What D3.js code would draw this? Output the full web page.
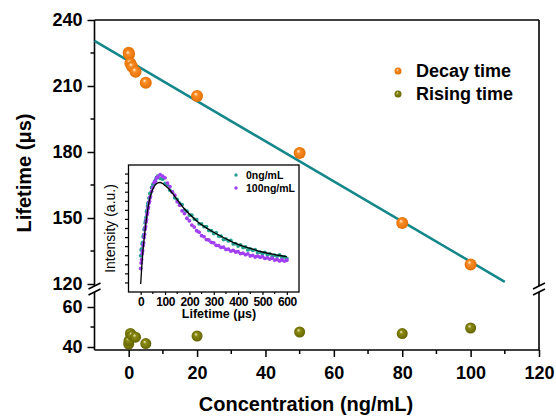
<!DOCTYPE html>
<html>
<head>
<meta charset="utf-8">
<script src="https://cdn.jsdelivr.net/npm/d3@7"></script>
<style>
  body { margin: 0; background: #fff; }
  text { font-family: "Liberation Sans", Arial, sans-serif; }
</style>
</head>
<body>
<div id="chart"></div>
<script>
// Main chart data
const concentration = [0, 0.1, 0.5, 1, 2, 5, 20, 50, 80, 100];
const decayTime = [225.1, 224.4, 220.3, 218.8, 216.5, 211.5, 205.5, 179.5, 147.7, 128.9];
const risingTime = [41.5, 43.2, 46.8, 45.8, 44.9, 41.7, 45.5, 47.5, 46.7, 49.5];
const fitX = [-10, 110];
const fitY = [230.5, 121];
const xTicks = [0, 20, 40, 60, 80, 100, 120];
const yTicksTop = [120, 150, 180, 210, 240];
const yTicksBottom = [40, 60];

// Inset data (decay curves)
const insetTime = [0, 2, 4, 6, 8, 10, 12, 14, 16, 18, 20, 22, 24, 26, 28, 30, 32, 34, 36, 38, 40,
  45, 50, 55, 60, 65, 70,
  80, 90, 100, 110, 120, 130, 140, 150, 160, 170, 180, 190, 200, 210, 220, 230, 240, 250, 260, 270,
  280, 290, 300, 310, 320, 330, 340, 350, 360, 370, 380, 390, 400, 410, 420, 430, 440, 450, 460, 470,
  480, 490, 500, 510, 520, 530, 540, 550, 560, 570, 580, 590, 600];
const intensity0 = [4.0, 4.63, 4.74, 5.29, 5.47, 6.09, 6.30, 6.87, 7.00, 7.62, 7.87, 8.22, 8.84, 8.99, 9.48, 9.79, 9.85, 10.35, 10.40, 10.87, 10.88,
  11.52, 11.85, 11.94, 12.33, 12.61, 12.78,
  12.52, 12.44, 11.96, 11.82, 11.23, 11.0, 10.39, 10.2, 9.79, 9.64, 9.05, 8.91, 8.49, 8.46, 8.04, 7.97, 7.52, 7.50, 7.20, 7.21,
  6.79, 6.76, 6.45, 6.53, 6.16, 6.15, 5.78, 5.84, 5.63, 5.69, 5.30, 5.33, 5.07, 5.20, 4.90, 4.96, 4.64, 4.75, 4.59, 4.67,
  4.34, 4.40, 4.19, 4.37, 4.10, 4.20, 3.91, 4.07, 3.95, 4.08, 3.78, 3.88, 3.70];
const intensity100 = [2.59, 3.21, 3.59, 4.22, 4.55, 5.10, 5.42, 6.01, 6.36, 6.91, 7.21, 7.71, 7.99, 8.52, 8.74, 9.18, 9.36, 9.80, 10.0, 10.39, 10.52,
  11.12, 11.52, 12.05, 12.22, 12.57, 12.65,
  12.95, 12.76, 12.59, 12.01, 11.62, 11.03, 10.67, 9.96, 9.57, 8.95, 8.65, 8.13, 7.85, 7.38, 7.16, 6.75, 6.59, 6.21, 6.10, 5.78,
  5.73, 5.48, 5.42, 5.14, 5.12, 4.91, 4.94, 4.69, 4.72, 4.51, 4.58, 4.41, 4.45, 4.24, 4.29, 4.12, 4.20, 3.98, 4.04, 3.86,
  3.96, 3.83, 3.89, 3.70, 3.77, 3.63, 3.73, 3.52, 3.58, 3.43, 3.53, 3.41, 3.50];
const fitTime = [0, 5, 10, 15, 20, 30, 40, 50, 60, 70, 80, 90, 100, 120, 140, 160, 180, 200, 240, 280, 320, 360, 400, 450, 500, 550, 600];
const fitIntensity = [0.88, 2.98, 4.74, 6.06, 7.28, 9.26, 10.58, 11.36, 11.80, 12.02, 12.07, 11.96, 11.74, 11.25, 10.53, 9.81, 9.15, 8.60,
  7.61, 6.89, 6.28, 5.73, 5.24, 4.80, 4.41, 4.13, 3.91];
const insetXTicks = [0, 100, 200, 300, 400, 500, 600];

const svgWidth = 556;
const svgHeight = 416;

// Plot frame
const plotL = 94.5, plotR = 539, plotT = 20, plotB = 350;
const breakTop = 286, breakBottom = 292;

const teal = "#14878a";

let svg = d3.select("#chart")
  .append("svg")
  .attr("width", svgWidth)
  .attr("height", svgHeight);

// Sphere-like gradients for markers
let defs = svg.append("defs");
function sphere(id, light, mid, dark) {
  let g = defs.append("radialGradient")
    .attr("id", id)
    .attr("cx", "50%").attr("cy", "50%").attr("r", "55%")
    .attr("fx", "38%").attr("fy", "32%");
  g.append("stop").attr("offset", "0%").attr("stop-color", light);
  g.append("stop").attr("offset", "30%").attr("stop-color", mid);
  g.append("stop").attr("offset", "100%").attr("stop-color", dark);
}
sphere("gOrange", "#fff3df", "#fb8c25", "#e06c00");
sphere("gOlive", "#eeeec0", "#8a8a12", "#606000");

// Step 1: scales
let xScale = d3.scaleLinear().domain([-10, 120]).range([plotL, plotR]);
let yTop = d3.scaleLinear().domain([119, 240]).range([286.2, plotT]);
let yBottom = d3.scaleLinear().domain([38.5, 66]).range([plotB, 295]);

// Step 2: axes
let bottomAxis = d3.axisBottom(xScale)
  .tickValues(xTicks).tickSize(7).tickSizeOuter(0).tickPadding(4);
let xg = svg.append("g")
  .attr("transform", `translate(0, ${plotB})`)
  .call(bottomAxis);

let leftTop = d3.axisLeft(yTop)
  .tickValues(yTicksTop).tickSize(7).tickSizeOuter(0).tickPadding(5);
let ytg = svg.append("g")
  .attr("transform", `translate(${plotL}, 0)`)
  .call(leftTop);

let leftBottom = d3.axisLeft(yBottom)
  .tickValues(yTicksBottom).tickSize(7).tickSizeOuter(0).tickPadding(5);
let ybg = svg.append("g")
  .attr("transform", `translate(${plotL}, 0)`)
  .call(leftBottom);

[xg, ytg, ybg].forEach(g => {
  g.select(".domain").remove();
  g.selectAll(".tick line").attr("stroke", "#000").attr("stroke-width", 1.5);
  g.selectAll(".tick text")
    .attr("fill", "#000")
    .style("font-size", "18px")
    .style("font-weight", "bold");
});
xg.selectAll(".tick text").attr("dy", "1em");

// minor ticks
let minorX = d3.range(10, 120, 20);
svg.append("g").selectAll("line")
  .data(minorX).enter().append("line")
  .attr("x1", d => xScale(d)).attr("x2", d => xScale(d))
  .attr("y1", plotB).attr("y2", plotB + 4)
  .attr("stroke", "#000").attr("stroke-width", 1.5);
svg.append("g").selectAll("line")
  .data([135, 165, 195, 225]).enter().append("line")
  .attr("x1", plotL - 4).attr("x2", plotL)
  .attr("y1", d => yTop(d)).attr("y2", d => yTop(d))
  .attr("stroke", "#000").attr("stroke-width", 1.5);
svg.append("line")
  .attr("x1", plotL - 4).attr("x2", plotL)
  .attr("y1", yBottom(50)).attr("y2", yBottom(50))
  .attr("stroke", "#000").attr("stroke-width", 1.5);

// Frame with broken vertical axes
let frame = svg.append("g").attr("stroke", "#000").attr("stroke-width", 1.6).attr("fill", "none");
frame.append("line").attr("x1", plotL).attr("x2", plotR).attr("y1", plotT).attr("y2", plotT);
frame.append("line").attr("x1", plotL).attr("x2", plotR).attr("y1", plotB).attr("y2", plotB);
[plotL, plotR].forEach(x => {
  frame.append("line").attr("x1", x).attr("x2", x).attr("y1", plotT).attr("y2", breakTop);
  frame.append("line").attr("x1", x).attr("x2", x).attr("y1", breakBottom).attr("y2", plotB);
  frame.append("line").attr("x1", x - 6).attr("x2", x + 6).attr("y1", breakTop + 3).attr("y2", breakTop - 3);
  frame.append("line").attr("x1", x - 6).attr("x2", x + 6).attr("y1", breakBottom + 3).attr("y2", breakBottom - 3);
});

// Step 3: linear fit line
svg.append("path")
  .datum(fitX.map((x, i) => [x, fitY[i]]))
  .attr("fill", "none")
  .attr("stroke", teal)
  .attr("stroke-width", 2.5)
  .attr("d", d3.line().x(d => xScale(d[0])).y(d => yTop(d[1])));

// Step 4: inset
const inL = 128.5, inR = 299, inT = 165, inB = 292;
let ix = d3.scaleLinear().domain([-50, 650]).range([inL, inR]);
let iy = d3.scaleLinear().domain([0, 14]).range([inB, inT]);

let inset = svg.append("g");
inset.append("rect")
  .attr("x", inL).attr("y", inT).attr("width", inR - inL).attr("height", inB - inT)
  .attr("fill", "#fff").attr("stroke", "#000").attr("stroke-width", 1.3);

let ixAxis = d3.axisBottom(ix).tickValues(insetXTicks).tickSize(3).tickSizeOuter(0).tickPadding(2);
let ixg = inset.append("g").attr("transform", `translate(0, ${inB})`).call(ixAxis);
ixg.select(".domain").remove();
ixg.selectAll(".tick line").attr("stroke", "#000").attr("stroke-width", 1.2);
ixg.selectAll(".tick text")
  .attr("fill", "#000")
  .style("font-size", "12px")
  .style("letter-spacing", "-0.4px")
  .style("font-weight", "bold");
inset.append("g").selectAll("line")
  .data([50, 150, 250, 350, 450, 550]).enter().append("line")
  .attr("x1", d => ix(d)).attr("x2", d => ix(d))
  .attr("y1", inB).attr("y2", inB + 2)
  .attr("stroke", "#000").attr("stroke-width", 1.2);
inset.append("g").selectAll("line")
  .data(d3.range(1, 14)).enter().append("line")
  .attr("x1", inL - 3.5).attr("x2", inL)
  .attr("y1", d => iy(d)).attr("y2", d => iy(d))
  .attr("stroke", "#000").attr("stroke-width", 1.2);

inset.append("g").selectAll("circle")
  .data(insetTime).enter().append("circle")
  .attr("cx", d => ix(d))
  .attr("cy", (d, i) => iy(intensity0[i]))
  .attr("r", 1.9)
  .attr("fill", "#26a091");
inset.append("g").selectAll("circle")
  .data(insetTime).enter().append("circle")
  .attr("cx", d => ix(d))
  .attr("cy", (d, i) => iy(intensity100[i]))
  .attr("r", 1.9)
  .attr("fill", "#a13ff2");
inset.append("path")
  .datum(fitTime.map((t, i) => [t, fitIntensity[i]]))
  .attr("fill", "none")
  .attr("stroke", "#000")
  .attr("stroke-width", 1.3)
  .attr("d", d3.line().curve(d3.curveMonotoneX).x(d => ix(d[0])).y(d => iy(d[1])));

// inset legend
[["0ng/mL", "#26a091", 175], ["100ng/mL", "#a13ff2", 188]].forEach(([label, color, y]) => {
  inset.append("circle").attr("cx", 236).attr("cy", y).attr("r", 1.7).attr("fill", color);
  inset.append("text")
    .attr("x", 246).attr("y", y).attr("dy", "0.35em")
    .style("font-size", "10.5px").style("font-weight", "bold")
    .text(label);
});

// inset axis labels
inset.append("text")
  .attr("x", 219).attr("y", 318)
  .attr("text-anchor", "middle")
  .style("font-size", "12.5px").style("font-weight", "bold")
  .text("Lifetime (\u03bcs)");
inset.append("text")
  .attr("transform", `translate(115, ${(inT + inB) / 2}) rotate(-90)`)
  .attr("text-anchor", "middle")
  .style("font-size", "14px")
  .text("Intensity (a.u.)");

// Step 5: markers
svg.append("g").selectAll("circle")
  .data(concentration).enter().append("circle")
  .attr("cx", d => xScale(d))
  .attr("cy", (d, i) => yTop(decayTime[i]))
  .attr("r", 6)
  .attr("fill", "url(#gOrange)");
svg.append("g").selectAll("circle")
  .data(concentration).enter().append("circle")
  .attr("cx", d => xScale(d))
  .attr("cy", (d, i) => yBottom(risingTime[i]))
  .attr("r", 5.5)
  .attr("fill", "url(#gOlive)");

// Legend
[["Decay time", "url(#gOrange)", 71], ["Rising time", "url(#gOlive)", 94]].forEach(([label, fill, y]) => {
  svg.append("circle").attr("cx", 398).attr("cy", y).attr("r", 3.5).attr("fill", fill);
  svg.append("text")
    .attr("x", 416).attr("y", y).attr("dy", "0.35em")
    .style("font-size", "18px").style("font-weight", "bold")
    .text(label);
});

// Axis titles
svg.append("text")
  .attr("x", 306).attr("y", 411)
  .attr("text-anchor", "middle")
  .style("font-size", "20px").style("font-weight", "bold")
  .text("Concentration (ng/mL)");
svg.append("text")
  .attr("transform", "translate(31, 173) rotate(-90)")
  .attr("text-anchor", "middle")
  .style("font-size", "20px").style("font-weight", "bold")
  .text("Lifetime (\u03bcs)");
</script>
</body>
</html>
